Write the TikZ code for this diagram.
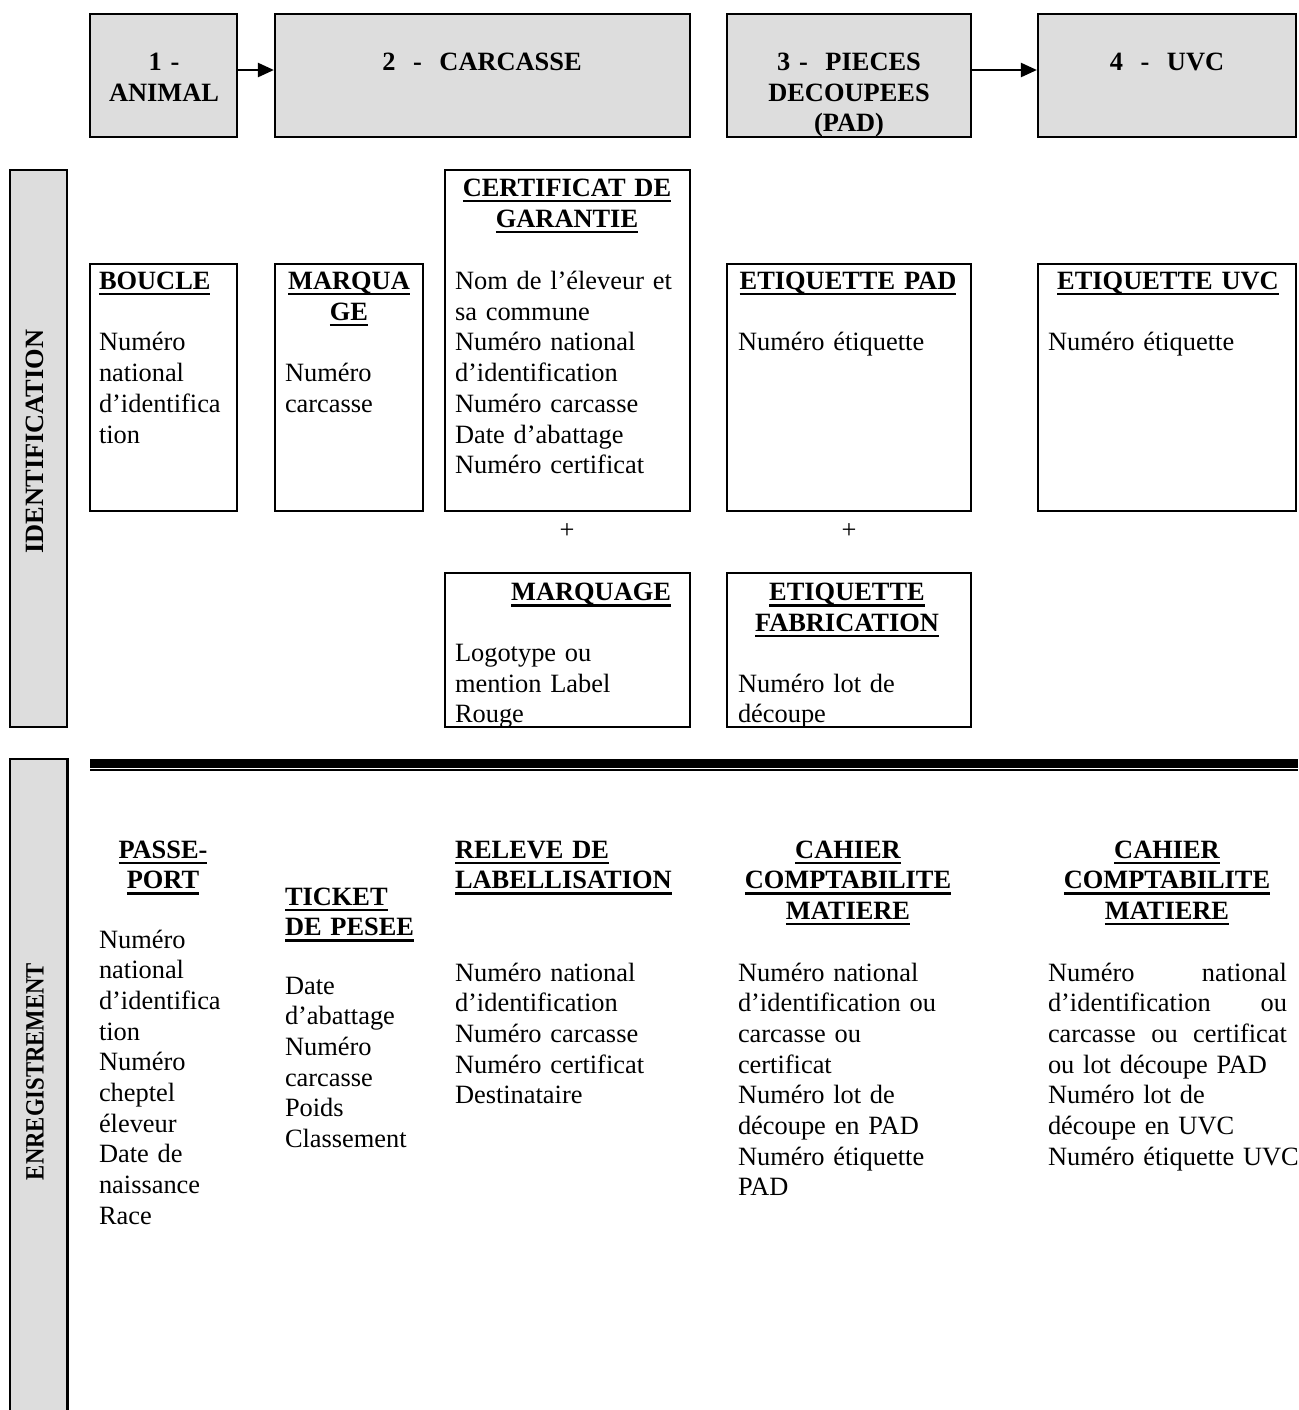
\documentclass[tikz,border=0pt]{standalone}
\usepackage{fontspec}
\setmainfont{Liberation Serif}
\usepackage{graphicx}
\usetikzlibrary{arrows.meta,fit}
\definecolor{boxgray}{RGB}{221,221,221}
\newcommand\fsz{\fontsize{13.2pt}{15.35pt}\selectfont}
\newcommand\ulx[1]{\leavevmode\setbox0=\hbox{#1}\rlap{\rule[-2.9pt]{\wd0}{1.15pt}}\box0}
\newcommand\jline[1]{\leavevmode\hbox to 119.5pt{#1}}
\begin{document}
\begin{tikzpicture}[x=0.5pt,y=-0.5pt,
 gbox/.style={draw=black, line width=1.1pt, fill=boxgray, inner sep=0pt},
 wbox/.style={draw=black, line width=1.1pt, fill=white, inner sep=0pt},
 txt/.style={inner sep=0pt, outer sep=0pt, font=\fsz, anchor=base west, align=left, text width=#1},
 txt/.default=135pt,
 btxt/.style={txt=#1, font=\fsz\bfseries},
 btxt/.default=135pt,
 hd/.style={inner sep=0pt, outer sep=0pt, font=\fsz\bfseries, anchor=base, align=center, text width=#1},
 hd/.default=130pt,
 arr/.style={line width=1.2pt, -{Triangle[length=8pt,width=7pt]}},
]
\useasboundingbox (0,0) rectangle (1298,1410);
\fill[white] (0,0) rectangle (1298,1410);

% top process boxes
\node[gbox, fit={(90,14) (237,137)}] (b1) {};
\node[gbox, fit={(275,14) (690,137)}] (b2) {};
\node[gbox, fit={(727,14) (971,137)}] (b3) {};
\node[gbox, fit={(1038,14) (1296,137)}] (b4) {};
\node[hd] (t1) at (164,70.5) {1 -\\ANIMAL};
\node[hd] (t2) at (482,70.5) {2\ \ -\ \ CARCASSE};
\node[hd] (t3) at (849,70.5) {3 -\ \ PIECES\\DECOUPEES\\(PAD)};
\node[hd] (t4) at (1167,70.5) {4\ \ -\ \ UVC};
\coordinate (ay) at (0,70);
\draw[arr] (b1.east |- ay) -- (b2.west |- ay);
\draw[arr] (b3.east |- ay) -- (b4.west |- ay);

% side bars
\node[gbox, fit={(10,170) (67,727)}] (sid) {};
\node[font=\fsz\bfseries, rotate=90, inner sep=0pt] (lid) at (35,441.5) {IDENTIFICATION};
\node[fill=boxgray, inner sep=0pt, fit={(10,759) (67,1414)}] (sen) {};
\draw[line width=1.1pt] (sen.south west) -- (sen.north west) -- (sen.north east) -- (sen.south east);
\node[font=\fsz\bfseries, rotate=90, inner sep=0pt] (len) at (35,1071.5) {\scalebox{0.86}[1]{ENREGISTREMENT}};

% identification boxes
\node[wbox, fit={(90,264) (237,511)}] (bouc) {};
\node[wbox, fit={(275,264) (423,511)}] (marq) {};
\node[wbox, fit={(445,170) (690,511)}] (cert) {};
\node[wbox, fit={(727,264) (971,511)}] (epad) {};
\node[wbox, fit={(1038,264) (1296,511)}] (euvc) {};
\node[wbox, fit={(445,573) (690,727)}] (marq2) {};
\node[wbox, fit={(727,573) (971,727)}] (efab) {};

\node[btxt] (hbouc) at (99,289.5) {\ulx{BOUCLE}};
\node[txt] (xbouc) at (99,350.9) {Numéro\\national\\d’identifica\\tion};
\node[hd] (hmarq) at (349,289.5) {\ulx{MARQUA}\\\ulx{GE}};
\node[txt] (xmarq) at (285,381.6) {Numéro\\carcasse};
\node[hd] (hcert) at (567,196.5) {\ulx{CERTIFICAT DE}\\\ulx{GARANTIE}};
\node[txt] (xcert) at (455,289.5) {Nom de l’éleveur et\\sa commune\\Numéro national\\d’identification\\Numéro carcasse\\Date d’abattage\\Numéro certificat};
\node[hd] (hepad) at (848,289.5) {\ulx{ETIQUETTE PAD}};
\node[txt] (xepad) at (738,350.9) {Numéro étiquette};
\node[hd] (heuvc) at (1168,289.5) {\ulx{ETIQUETTE UVC}};
\node[txt] (xeuvc) at (1048,350.9) {Numéro étiquette};
\node[inner sep=0pt, font=\fsz, anchor=base] (plus1) at (567,538) {+};
\node[inner sep=0pt, font=\fsz, anchor=base] (plus2) at (849,538) {+};
\node[hd, anchor=base east, align=right] (hmarq2) at (671,600.7) {\ulx{MARQUAGE}};
\node[txt] (xmarq2) at (455,661.3) {Logotype ou\\mention Label\\Rouge};
\node[hd] (hefab) at (847,600.7) {\ulx{ETIQUETTE}\\\ulx{FABRICATION}};
\node[txt] (xefab) at (738,692) {Numéro lot de\\découpe};

% separator
\fill (90,759) rectangle (1298,767.5);
\fill (90,769.3) rectangle (1298,771.3);

% enregistrement columns
\node[hd] (hpass) at (163,858) {\ulx{PASSE-}\\\ulx{PORT}};
\node[txt] (xpass) at (99,948) {Numéro\\national\\d’identifica\\tion\\Numéro\\cheptel\\éleveur\\Date de\\naissance\\Race};
\node[btxt] (htick) at (285,905) {\ulx{TICKET}\\\ulx{DE PESEE}};
\node[txt] (xtick) at (285,994) {Date\\d’abattage\\Numéro\\carcasse\\Poids\\Classement};
\node[btxt] (hrel) at (455,858) {\ulx{RELEVE DE}\\\ulx{LABELLISATION}};
\node[txt] (xrel) at (455,981) {Numéro national\\d’identification\\Numéro carcasse\\Numéro certificat\\Destinataire};
\node[hd] (hcah1) at (848,858) {\ulx{CAHIER}\\\ulx{COMPTABILITE}\\\ulx{MATIERE}};
\node[txt] (xcah1) at (738,981) {Numéro national\\d’identification ou\\carcasse ou\\certificat\\Numéro lot de\\découpe en PAD\\Numéro étiquette\\PAD};
\node[hd] (hcah2) at (1167,858) {\ulx{CAHIER}\\\ulx{COMPTABILITE}\\\ulx{MATIERE}};
\node[txt] (xcah2) at (1048,981) {\jline{Numéro\hfill national}\\\jline{d’identification\hfill ou}\\\jline{carcasse\hfill ou\hfill certificat}\\ou lot découpe PAD\\Numéro lot de\\découpe en UVC\\Numéro étiquette UVC};
\end{tikzpicture}
\end{document}
